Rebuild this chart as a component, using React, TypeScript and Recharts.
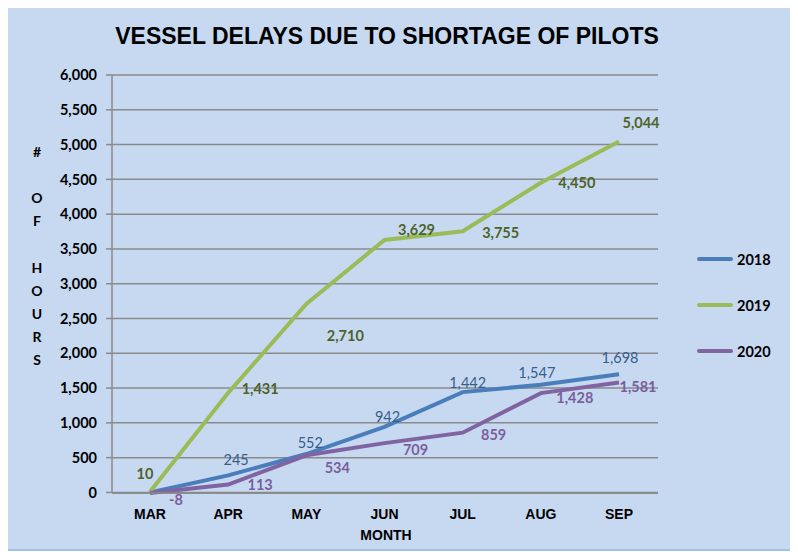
import React from 'react'
import { LineChart, Line, XAxis, YAxis, CartesianGrid, LabelList } from 'recharts'

const months = ['MAR', 'APR', 'MAY', 'JUN', 'JUL', 'AUG', 'SEP']
const hours2018 = [0, 245, 552, 942, 1442, 1547, 1698]
const hours2019 = [10, 1431, 2710, 3629, 3755, 4450, 5044]
const hours2020 = [-8, 113, 534, 709, 859, 1428, 1581]
const yTicks = [0, 500, 1000, 1500, 2000, 2500, 3000, 3500, 4000, 4500, 5000, 5500, 6000]

// label nudges, copied by eye from the excel-ish placement
const nudge2018 = [[0, 0], [8, -16], [4, -12], [3, -10], [5, -10], [-4, -12], [1, -17]]
const nudge2019 = [[-5, -18], [32, -4], [39, 32], [32, -10], [38, 1], [36, 0], [22, -19]]
const nudge2020 = [[26, 6], [32, 0], [31, 12], [31, 6], [31, 2], [34, 4], [19, 4]]

const data = months.map((m, i) => ({ month: m, y2018: hours2018[i], y2019: hours2019[i], y2020: hours2020[i] }))

const FONT = 'Lato, "Open Sans", sans-serif'
const ARIAL = '"Liberation Sans", Arial, sans-serif'
const GRID = '#8a8a8a'

const series = [
  { key: 'y2018', name: '2018', color: '#4a7ebb', text: '#385d8a', weight: 400, nudge: nudge2018, skipFirst: true },
  { key: 'y2019', name: '2019', color: '#9bbb59', text: '#4f6228', weight: 700, nudge: nudge2019, skipFirst: false },
  { key: 'y2020', name: '2020', color: '#8064a2', text: '#7b5e9c', weight: 700, nudge: nudge2020, skipFirst: false },
]

const fmt = (v: number) => v.toLocaleString('en-US')

function makeLabel(s: typeof series[number]) {
  return (p: any) => {
    const { x, y, value, index } = p
    if (s.skipFirst && index === 0) return null
    const [dx, dy] = s.nudge[index] || [0, 0]
    return (
      <text x={x + dx} y={y + dy} textAnchor="middle" dominantBaseline="central"
        fill={s.text} fontSize={14.5} fontWeight={s.weight} fontFamily={FONT}>
        {fmt(value)}
      </text>
    )
  }
}

function LegendBox() {
  return (
    <div style={{ position: 'absolute', top: 228, left: 689, fontFamily: FONT }}>
      {series.map(s => (
        <div key={s.key} style={{ display: 'flex', alignItems: 'center', height: 46 }}>
          <div style={{ width: 36, height: 4, borderRadius: 2, background: s.color, marginRight: 4 }} />
          <span style={{ fontWeight: 700, fontSize: 14.5, color: '#000' }}>{s.name}</span>
        </div>
      ))}
    </div>
  )
}

const yTitle = ['#', '', 'O', 'F', '', 'H', 'O', 'U', 'R', 'S']

export default function App() {
  return (
    <div style={{ position: 'relative', width: 790, height: 541, background: '#c6d9f1', borderBottom: '2px solid #a7c2e6', fontFamily: FONT }}>
      <div style={{ position: 'absolute', top: 15, left: 0, width: 758, textAlign: 'center', fontSize: 23, fontWeight: 700, color: '#000', fontFamily: ARIAL }}>
        VESSEL DELAYS DUE TO SHORTAGE OF PILOTS
      </div>
      <LineChart width={790} height={541} data={data} margin={{ top: 67, right: 140, bottom: 6, left: 0 }}>
        <CartesianGrid vertical={false} stroke={GRID} strokeWidth={1.5} />
        <XAxis dataKey="month" tickLine={false} axisLine={{ stroke: GRID, strokeWidth: 1.5 }} height={50}
          padding={{ left: 38, right: 39 }} tickMargin={10}
          tick={{ fill: '#000', fontSize: 14, fontWeight: 700, fontFamily: ARIAL }}
          label={{
            content: (p: any) => {
              const vb = p.viewBox || {}
              return (
                <text x={378} y={vb.y + 42} textAnchor="middle" dominantBaseline="central"
                  fontSize={14} fontWeight={700} fontFamily={ARIAL} fill="#000">MONTH</text>
              )
            }
          }} />
        <YAxis domain={[0, 6000]} ticks={yTicks} tickFormatter={fmt} width={104} tickSize={6} tickMargin={9}
          axisLine={{ stroke: GRID, strokeWidth: 1.5 }} tickLine={{ stroke: GRID, strokeWidth: 1.5 }}
          tick={{ fill: '#000', fontSize: 14.5, fontWeight: 700, fontFamily: FONT }}
          label={{
            content: () => (
              <text x={29} textAnchor="middle" fontSize={14} fontWeight={700} fontFamily={FONT} fill="#000">
                {yTitle.map((c, i) => (
                  <tspan key={i} x={29} y={143 + i * 23.2} dominantBaseline="central">{c || '\u00a0'}</tspan>
                ))}
              </text>
            )
          }} />
        {series.map(s => (
          <Line key={s.key} type="linear" dataKey={s.key} name={s.name} stroke={s.color} strokeWidth={4}
            dot={false} isAnimationActive={false}>
            <LabelList dataKey={s.key} content={makeLabel(s)} />
          </Line>
        ))}
      </LineChart>
      <LegendBox />
    </div>
  )
}
